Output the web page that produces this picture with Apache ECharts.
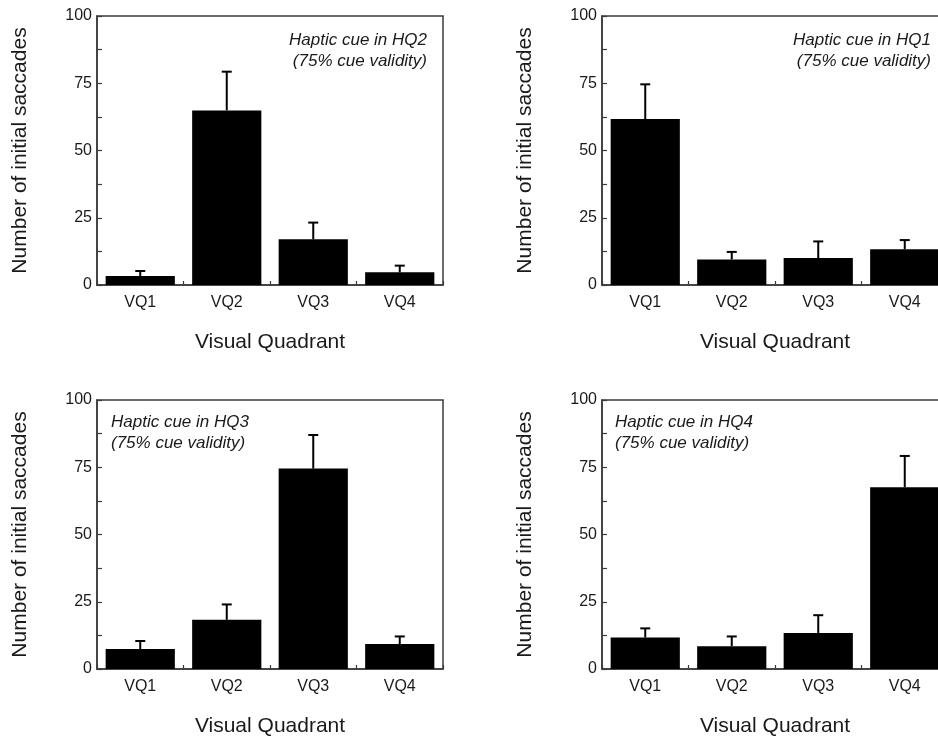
<!DOCTYPE html>
<html>
<head>
<meta charset="utf-8">
<script src="https://cdn.jsdelivr.net/npm/echarts@6/dist/echarts.min.js"></script>
<style>
html,body{margin:0;padding:0;background:#fff;}
#chart{width:938px;height:739px;}
</style>
</head>
<body>
<div id="chart"></div>
<script>
const categories = ['VQ1', 'VQ2', 'VQ3', 'VQ4'];
const yTicks = [0, 25, 50, 75, 100];

const hq2Means = [3.3, 64.9, 17.0, 4.7];
const hq2Errors = [1.9, 14.4, 6.2, 2.5];
const hq1Means = [61.7, 9.5, 10.0, 13.3];
const hq1Errors = [12.9, 2.8, 6.2, 3.4];
const hq3Means = [7.4, 18.3, 74.5, 9.3];
const hq3Errors = [3.0, 5.7, 12.5, 2.8];
const hq4Means = [11.7, 8.5, 13.4, 67.6];
const hq4Errors = [3.4, 3.6, 6.6, 11.6];

const panelLabels = ['Haptic cue in HQ2\n(75% cue validity)', 'Haptic cue in HQ1\n(75% cue validity)',
                     'Haptic cue in HQ3\n(75% cue validity)', 'Haptic cue in HQ4\n(75% cue validity)'];

const FONT = '"Liberation Sans", Arial, Helvetica, sans-serif';
const TXT = '#1a1a1a';
const LINE = '#3a3a3a';

const panels = [
  {means: hq2Means, errors: hq2Errors, grid: {left: 97, top: 16, width: 346, height: 269}},
  {means: hq1Means, errors: hq1Errors, grid: {left: 602, top: 16, width: 346, height: 269}},
  {means: hq3Means, errors: hq3Errors, grid: {left: 97, top: 400, width: 346, height: 269}},
  {means: hq4Means, errors: hq4Errors, grid: {left: 602, top: 400, width: 346, height: 269}}
];

const grids = [], xAxes = [], yAxes = [], series = [];
panels.forEach((p, i) => {
  grids.push(Object.assign({show: true, borderColor: LINE, borderWidth: 1.5, backgroundColor: 'transparent',
    containLabel: false, outerBoundsMode: 'none'}, p.grid));
  xAxes.push({
    type: 'category', gridIndex: i, data: categories,
    name: 'Visual Quadrant', nameLocation: 'middle', nameGap: 47,
    nameTextStyle: {fontFamily: FONT, fontSize: 21, color: TXT},
    axisLine: {show: true, lineStyle: {color: LINE, width: 1.5}},
    axisTick: {show: true, inside: true, length: 4, lineStyle: {color: LINE, width: 1.2}},
    axisLabel: {fontFamily: FONT, fontSize: 16, color: TXT, margin: 10}
  });
  yAxes.push({
    type: 'value', gridIndex: i, min: 0, max: 100, interval: 12.5,
    name: 'Number of initial saccades', nameLocation: 'middle', nameGap: 66, nameRotate: 90,
    nameTextStyle: {fontFamily: FONT, fontSize: 21, color: TXT},
    axisLine: {show: true, lineStyle: {color: LINE, width: 1.5}},
    axisTick: {show: true, inside: true, length: 5, lineStyle: {color: LINE, width: 1.2}},
    splitLine: {show: false},
    axisLabel: {fontFamily: FONT, fontSize: 16, color: TXT, margin: 5,
      formatter: v => (yTicks.indexOf(v) >= 0 ? String(v) : '')}
  });
  series.push({
    type: 'bar', xAxisIndex: i, yAxisIndex: i, data: p.means,
    barCategoryGap: '20%', itemStyle: {color: '#000'}, silent: true, z: 2
  });
  series.push({
    type: 'custom', xAxisIndex: i, yAxisIndex: i, z: 3, silent: true,
    data: p.means.map((m, k) => [k, m, p.errors[k]]),
    encode: {x: 0, y: 1},
    renderItem: function (params, api) {
      const k = api.value(0), m = api.value(1), e = api.value(2);
      const base = api.coord([k, m]);
      const top = api.coord([k, m + e]);
      const hw = 5;
      const st = {stroke: '#000', lineWidth: 2};
      return {type: 'group', children: [
        {type: 'line', shape: {x1: base[0], y1: base[1], x2: top[0], y2: top[1]}, style: st},
        {type: 'line', shape: {x1: top[0] - hw, y1: top[1], x2: top[0] + hw, y2: top[1]}, style: st}
      ]};
    }
  });
});

const graphics = [
  {type: 'text', x: 427, y: 30, style: {text: panelLabels[0], align: 'right', verticalAlign: 'top', font: 'italic 17px ' + FONT, lineHeight: 21, fill: TXT}},
  {type: 'text', x: 931, y: 30, style: {text: panelLabels[1], align: 'right', verticalAlign: 'top', font: 'italic 17px ' + FONT, lineHeight: 21, fill: TXT}},
  {type: 'text', x: 111, y: 412, style: {text: panelLabels[2], align: 'left', verticalAlign: 'top', font: 'italic 17px ' + FONT, lineHeight: 21, fill: TXT}},
  {type: 'text', x: 615, y: 412, style: {text: panelLabels[3], align: 'left', verticalAlign: 'top', font: 'italic 17px ' + FONT, lineHeight: 21, fill: TXT}}
];

const chart = echarts.init(document.getElementById('chart'), null, {renderer: 'canvas'});
chart.setOption({
  animation: false,
  backgroundColor: '#fff',
  grid: grids, xAxis: xAxes, yAxis: yAxes, series: series,
  graphic: graphics
});
</script>
</body>
</html>
